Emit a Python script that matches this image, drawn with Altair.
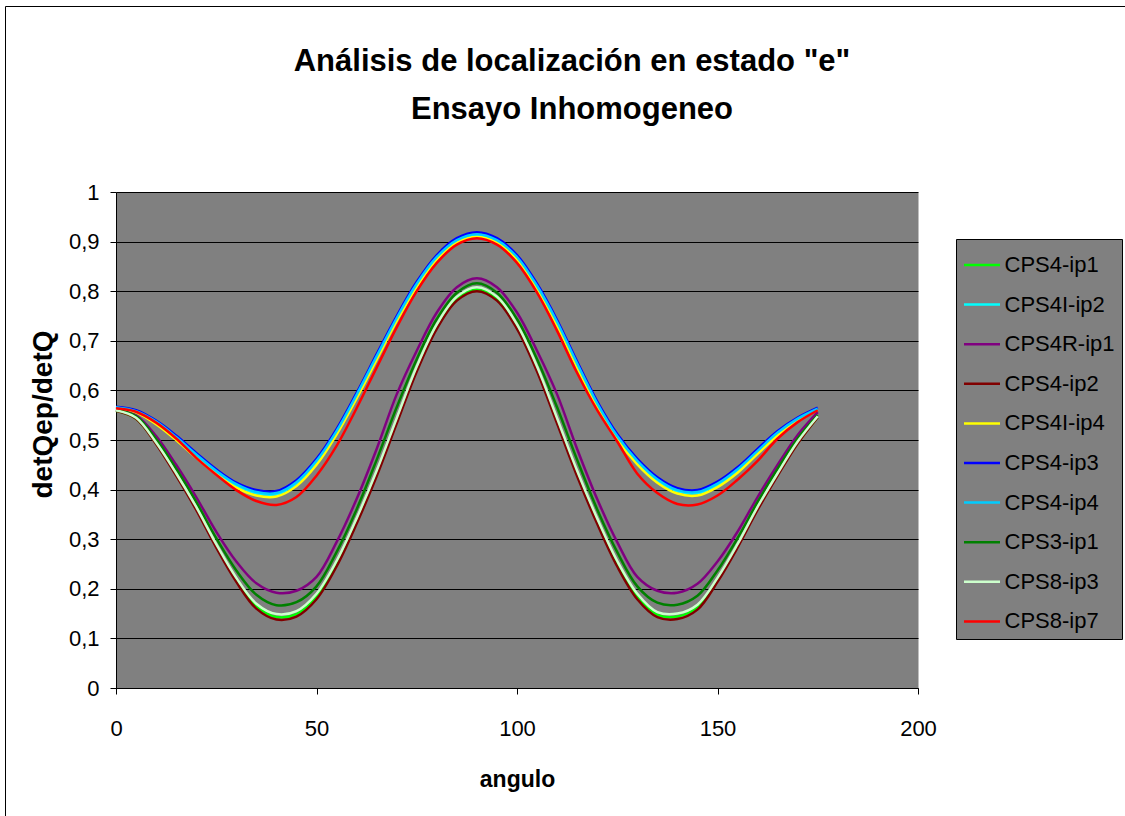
import altair as alt
import pandas as pd

angles = [0, 5, 10, 15, 20, 25, 30, 35, 40, 45, 50, 55, 60, 65, 70, 75, 80, 85, 90,
          95, 100, 105, 110, 115, 120, 125, 130, 135, 140, 145, 150, 155, 160, 165, 170, 175]

series_names = ["CPS4-ip1", "CPS4I-ip2", "CPS4R-ip1", "CPS4-ip2", "CPS4I-ip4",
                "CPS4-ip3", "CPS4-ip4", "CPS3-ip1", "CPS8-ip3", "CPS8-ip7"]
series_colors = ["#00FF00", "#00FFFF", "#800080", "#800000", "#FFFF00",
                 "#0000FF", "#00CCFF", "#008000", "#CCFFCC", "#FF0000"]

cps4_ip1 = [0.559, 0.543, 0.493, 0.430, 0.362, 0.287, 0.218, 0.165, 0.143, 0.149, 0.184, 0.250,
            0.336, 0.432, 0.538, 0.642, 0.728, 0.784, 0.803, 0.784, 0.728, 0.642, 0.538, 0.432,
            0.336, 0.250, 0.184, 0.148, 0.144, 0.163, 0.218, 0.287, 0.362, 0.430, 0.494, 0.546]
cps4i_ip2 = [0.565, 0.557, 0.535, 0.504, 0.469, 0.436, 0.409, 0.393, 0.391, 0.413, 0.456, 0.516,
             0.589, 0.667, 0.744, 0.813, 0.867, 0.901, 0.913, 0.901, 0.867, 0.809, 0.736, 0.652,
             0.572, 0.506, 0.456, 0.419, 0.397, 0.393, 0.410, 0.439, 0.476, 0.513, 0.541, 0.562]
cps4r_ip1 = [0.562, 0.550, 0.508, 0.450, 0.385, 0.315, 0.255, 0.211, 0.192, 0.196, 0.224, 0.294,
             0.381, 0.482, 0.592, 0.680, 0.757, 0.808, 0.826, 0.808, 0.757, 0.680, 0.592, 0.482,
             0.381, 0.294, 0.224, 0.196, 0.192, 0.210, 0.255, 0.315, 0.385, 0.450, 0.510, 0.556]
cps4_ip2 = [0.559, 0.543, 0.492, 0.428, 0.359, 0.283, 0.214, 0.160, 0.138, 0.144, 0.179, 0.245,
            0.331, 0.427, 0.533, 0.638, 0.724, 0.781, 0.800, 0.781, 0.724, 0.638, 0.533, 0.427,
            0.331, 0.245, 0.179, 0.143, 0.139, 0.158, 0.214, 0.283, 0.359, 0.428, 0.493, 0.546]
cps4i_ip4 = [0.565, 0.556, 0.532, 0.500, 0.464, 0.431, 0.404, 0.388, 0.386, 0.407, 0.450, 0.511,
             0.584, 0.662, 0.740, 0.809, 0.864, 0.898, 0.910, 0.898, 0.864, 0.805, 0.731, 0.647,
             0.567, 0.501, 0.451, 0.414, 0.392, 0.388, 0.405, 0.434, 0.472, 0.509, 0.538, 0.561]
cps4_ip3 = [0.567, 0.560, 0.539, 0.509, 0.474, 0.441, 0.414, 0.399, 0.397, 0.419, 0.462, 0.522,
            0.595, 0.673, 0.750, 0.819, 0.873, 0.907, 0.919, 0.907, 0.873, 0.815, 0.742, 0.658,
            0.578, 0.512, 0.462, 0.425, 0.403, 0.399, 0.416, 0.445, 0.482, 0.518, 0.545, 0.565]
cps4_ip4 = [0.566, 0.558, 0.537, 0.506, 0.471, 0.438, 0.411, 0.395, 0.393, 0.415, 0.458, 0.518,
            0.591, 0.669, 0.746, 0.815, 0.869, 0.903, 0.915, 0.903, 0.869, 0.811, 0.738, 0.654,
            0.574, 0.508, 0.458, 0.421, 0.399, 0.395, 0.412, 0.441, 0.478, 0.515, 0.543, 0.563]
cps3_ip1 = [0.561, 0.548, 0.502, 0.442, 0.375, 0.302, 0.237, 0.188, 0.167, 0.173, 0.205, 0.274,
            0.360, 0.460, 0.566, 0.663, 0.744, 0.797, 0.816, 0.797, 0.744, 0.663, 0.566, 0.460,
            0.360, 0.274, 0.205, 0.172, 0.168, 0.186, 0.237, 0.302, 0.375, 0.442, 0.503, 0.550]
cps8_ip3 = [0.560, 0.545, 0.495, 0.433, 0.365, 0.290, 0.222, 0.170, 0.149, 0.155, 0.190, 0.256,
            0.342, 0.438, 0.544, 0.648, 0.733, 0.789, 0.808, 0.789, 0.733, 0.648, 0.544, 0.438,
            0.342, 0.256, 0.190, 0.153, 0.150, 0.168, 0.222, 0.290, 0.365, 0.433, 0.497, 0.548]
cps8_ip7 = [0.564, 0.557, 0.535, 0.503, 0.464, 0.430, 0.399, 0.377, 0.369, 0.385, 0.428, 0.488,
            0.564, 0.646, 0.727, 0.800, 0.857, 0.894, 0.907, 0.894, 0.857, 0.797, 0.720, 0.635,
            0.560, 0.497, 0.432, 0.393, 0.371, 0.370, 0.388, 0.420, 0.458, 0.503, 0.536, 0.560]

series_values = [cps4_ip1, cps4i_ip2, cps4r_ip1, cps4_ip2, cps4i_ip4,
                 cps4_ip3, cps4_ip4, cps3_ip1, cps8_ip3, cps8_ip7]

y_ticks = [0, 0.1, 0.2, 0.3, 0.4, 0.5, 0.6, 0.7, 0.8, 0.9, 1.0]
x_ticks = [0, 50, 100, 150, 200]

title_lines = ["Análisis de localización en estado \"e\"", "Ensayo Inhomogeneo"]

rows = []
for name, vals in zip(series_names, series_values):
    for a, v in zip(angles, vals):
        rows.append({"angulo": a, "valor": v, "serie": name})
df = pd.DataFrame(rows)

FONT = "Liberation Sans"

lines = alt.Chart(df).mark_line(strokeWidth=2.5, interpolate="catmull-rom").encode(
    x=alt.X("angulo:Q",
            scale=alt.Scale(domain=[0, 200], nice=False),
            axis=alt.Axis(values=x_ticks, grid=False, title="angulo", labelFlush=False,
                          titleX=401, titleY=91, titleAlign="center", titleBaseline="middle",
                          titleFontSize=23, titleFontWeight="bold", titleFont=FONT,
                          labelFontSize=22, labelFont=FONT, labelPadding=24,
                          labelColor="black", titleColor="black")),
    y=alt.Y("valor:Q",
            scale=alt.Scale(domain=[0, 1], nice=False),
            axis=alt.Axis(values=y_ticks, grid=True, title="detQep/detQ",
                          labelExpr="replace(format(datum.value, '.1~f'), '.', ',')",
                          titleX=-73, titleY=222, titleAngle=270, titleAlign="center",
                          titleBaseline="middle",
                          titleFontSize=28, titleFontWeight="bold", titleFont=FONT,
                          labelFontSize=22, labelFont=FONT, labelPadding=11,
                          labelColor="black", titleColor="black")),
    color=alt.Color("serie:N",
                    scale=alt.Scale(domain=series_names, range=series_colors),
                    sort=series_names,
                    title=None,
                    legend=alt.Legend(orient="none", legendX=840, legendY=47,
                                      padding=6.5, fillColor="#808080", strokeColor="black",
                                      symbolType="stroke", symbolSize=1296,
                                      symbolStrokeWidth=2.5, labelOffset=3,
                                      labelFontSize=22, labelFont=FONT, labelColor="black",
                                      rowPadding=8.6)),
)

one = pd.DataFrame({"k": [0]})

t1 = alt.Chart(one).mark_text(text=title_lines[0], font=FONT, fontSize=31, fontWeight="bold",
                              align="center", baseline="middle", color="black").encode(
    x=alt.value(456), y=alt.value(-130))
t2 = alt.Chart(one).mark_text(text=title_lines[1], font=FONT, fontSize=31, fontWeight="bold",
                              align="center", baseline="middle", color="black").encode(
    x=alt.value(456), y=alt.value(-82))

b_left = alt.Chart(one).mark_rule(color="black", strokeWidth=1).encode(
    x=alt.value(-110.5), y=alt.value(-185.5), y2=alt.value(624))
b_top = alt.Chart(one).mark_rule(color="black", strokeWidth=1).encode(
    x=alt.value(-110.5), x2=alt.value(1009), y=alt.value(-185.5))

chart = alt.layer(lines, t1, t2, b_left, b_top).properties(
    width=802, height=496,
    padding={"left": 116, "top": 192, "right": 207, "bottom": 128},
    autosize=alt.AutoSizeParams(type="none"),
    background="white",
).configure_view(
    fill="#808080", stroke="transparent"
).configure_axis(
    domainColor="black", tickColor="black", gridColor="black", gridWidth=1,
    tickSize=6, domainWidth=1
)

chart.save("out.html", embed_options={"renderer": "svg", "actions": False})
